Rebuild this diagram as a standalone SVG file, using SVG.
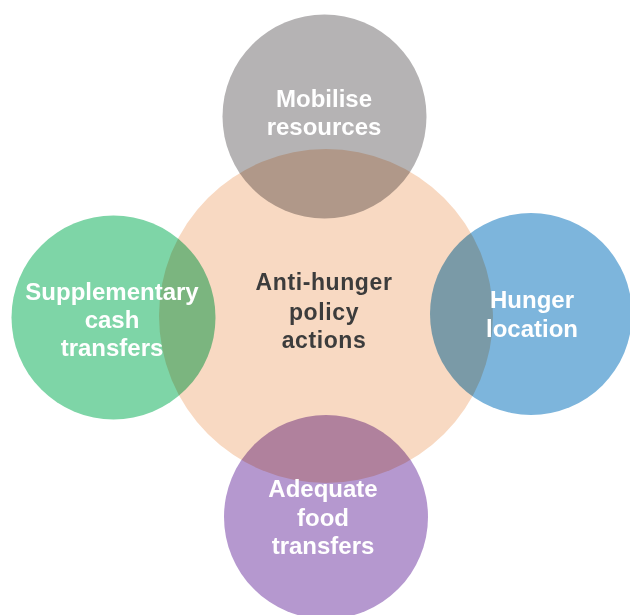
<svg xmlns="http://www.w3.org/2000/svg" width="630" height="615" viewBox="0 0 630 615">
<style>
.c{mix-blend-mode:multiply}
.w{font-family:"Liberation Sans",Arial,sans-serif;font-weight:bold;font-size:24px;fill:#ffffff;text-anchor:middle}
.d{font-family:"Liberation Sans",Arial,sans-serif;font-weight:bold;font-size:23px;fill:#3c3c3c;text-anchor:middle;letter-spacing:0.6px}
</style>
<rect width="630" height="615" fill="#ffffff"/>
<g id="connectors"/>
<g id="center">
<circle cx="326" cy="316" r="167" fill="#f8d9c2"/>
<text class="d" x="324" y="290">Anti-hunger</text>
<text class="d" x="324" y="320">policy</text>
<text class="d" x="324" y="348">actions</text>
</g>
<g id="mobilise">
<circle class="c" cx="324.5" cy="116.5" r="102" fill="#b5b3b4"/>
<text class="w" x="324" y="107">Mobilise</text>
<text class="w" x="324" y="135">resources</text>
</g>
<g id="supplementary">
<circle class="c" cx="113.5" cy="317.5" r="102" fill="#7ed5a7"/>
<text class="w" x="112" y="300">Supplementary</text>
<text class="w" x="112" y="328">cash</text>
<text class="w" x="112" y="356">transfers</text>
</g>
<g id="hunger">
<circle class="c" cx="531" cy="314" r="101" fill="#7db5dc"/>
<text class="w" x="532" y="308">Hunger</text>
<text class="w" x="532" y="337">location</text>
</g>
<g id="adequate">
<circle class="c" cx="326" cy="517" r="102" fill="#b598cf"/>
<text class="w" x="323" y="497">Adequate</text>
<text class="w" x="323" y="526">food</text>
<text class="w" x="323" y="554">transfers</text>
</g>
</svg>
